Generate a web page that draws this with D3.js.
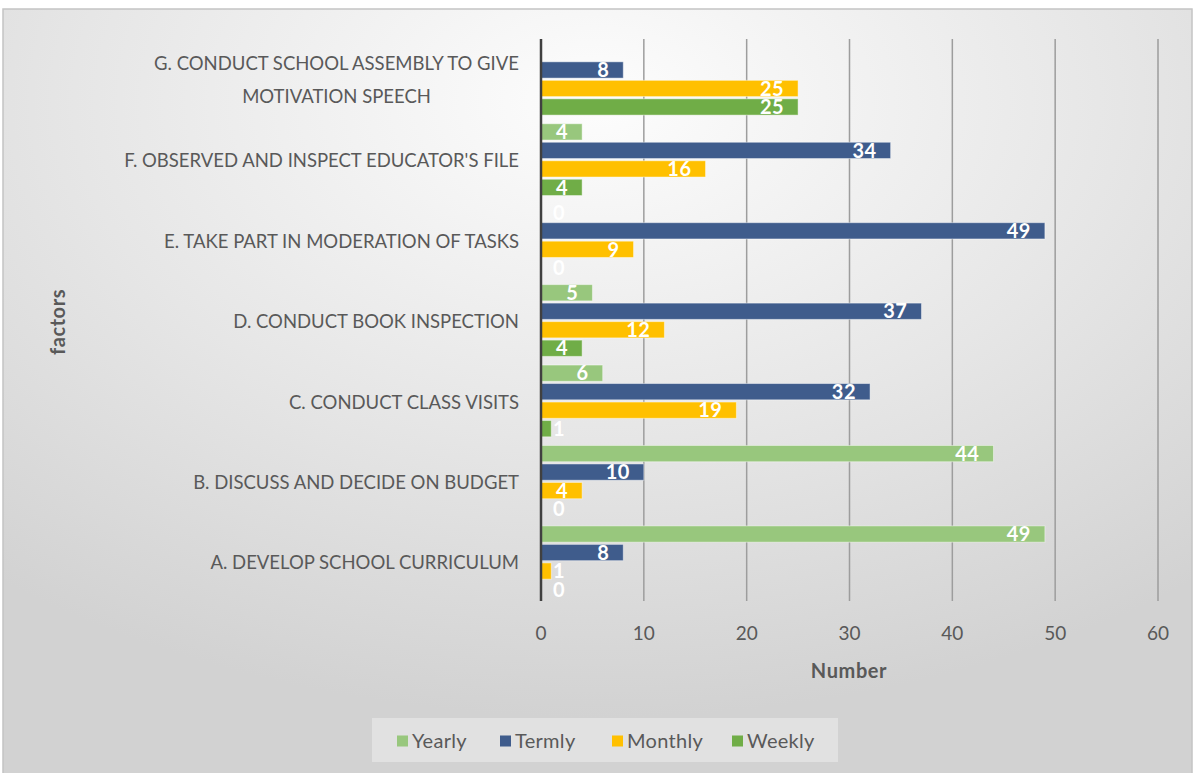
<!DOCTYPE html>
<html>
<head>
<meta charset="utf-8">
<script src="https://cdn.jsdelivr.net/npm/d3@7"></script>
<style>
  html, body { margin: 0; padding: 0; background: #ffffff; }
  svg { display: block; }
</style>
</head>
<body>
<svg id="chart" width="1195" height="773"></svg>
<script>
// Activity categories, top to bottom
const categories = [
  "G. CONDUCT SCHOOL ASSEMBLY TO GIVE|MOTIVATION SPEECH",
  "F. OBSERVED AND INSPECT EDUCATOR'S FILE",
  "E. TAKE PART IN MODERATION OF TASKS",
  "D. CONDUCT BOOK INSPECTION",
  "C. CONDUCT CLASS VISITS",
  "B. DISCUSS AND DECIDE ON BUDGET",
  "A. DEVELOP SCHOOL CURRICULUM"
];
const seriesNames = ["Yearly", "Termly", "Monthly", "Weekly"];
// Values per series, in category order (G..A); null = no bar
const yearly  = [null, 4, 0, 5, 6, 44, 49];
const termly  = [8, 34, 49, 37, 32, 10, 8];
const monthly = [25, 16, 9, 12, 19, 4, 1];
const weekly  = [25, 4, 0, 4, 1, 0, 0];
const xTicks = [0, 10, 20, 30, 40, 50, 60];

const seriesValues = [yearly, termly, monthly, weekly];
const colors = ["#98c77d", "#3f5c8c", "#ffc000", "#70ad47"];

const svg = d3.select("#chart");

// Background gradient of the chart area
const defs = svg.append("defs");
const grad = defs.append("radialGradient")
  .attr("id", "bg").attr("cx", "50%").attr("cy", "12%").attr("r", "80%")
  .attr("gradientUnits", "objectBoundingBox");
grad.append("stop").attr("offset", "0%").attr("stop-color", "#fdfdfd");
grad.append("stop").attr("offset", "55%").attr("stop-color", "#e6e6e6");
grad.append("stop").attr("offset", "100%").attr("stop-color", "#d2d2d2");

svg.append("rect").attr("x", 3).attr("y", 9).attr("width", 1189).attr("height", 770)
  .attr("fill", "url(#bg)").attr("stroke", "#c4c4c4").attr("stroke-width", 1.5);

const x = d3.scaleLinear().domain([0, 60]).range([541, 1158]);
const y = d3.scaleBand().domain(d3.range(categories.length)).range([39, 602]).paddingInner(0).paddingOuter(0);
const inner = d3.scaleBand().domain(d3.range(4)).range([0, 74]).paddingInner(0.12).paddingOuter(0.06);
const groupOffset = (y.bandwidth() - 74) / 2;

const font = "Lato, 'Open Sans', sans-serif";

// Vertical gridlines
svg.append("g").selectAll("line").data(xTicks.filter(t => t > 0)).join("line")
  .attr("x1", d => x(d)).attr("x2", d => x(d))
  .attr("y1", 39).attr("y2", 601)
  .attr("stroke", "#9d9d9d").attr("stroke-width", 1.5);

// Bars
const bars = [];
seriesValues.forEach((vals, s) => {
  vals.forEach((v, c) => { if (v !== null) bars.push({ s, c, v }); });
});

svg.append("g").selectAll("rect").data(bars).join("rect")
  .attr("x", x(0))
  .attr("y", d => y(d.c) + groupOffset + inner(d.s))
  .attr("width", d => x(d.v) - x(0))
  .attr("height", inner.bandwidth())
  .attr("fill", d => colors[d.s])
  .attr("stroke", "rgba(255,255,255,0.45)").attr("stroke-width", 1);

// Value labels (inside end, pushed past the axis when the bar is short)
const labels = svg.append("g").selectAll("text").data(bars).join("text")
  .attr("y", d => y(d.c) + groupOffset + inner(d.s) + inner.bandwidth() / 2)
  .attr("dy", "0.36em")
  .attr("fill", "#ffffff")
  .attr("font-family", font).attr("font-weight", "bold").attr("font-size", 20)
  .attr("letter-spacing", 0.5)
  .text(d => d.v);
labels.each(function(d) {
  const w = this.getComputedTextLength();
  let endX = x(d.v) - 14;
  if (endX - w < x(0) + 12) endX = x(0) + 12 + w;
  d3.select(this).attr("x", endX).attr("text-anchor", "end");
});

// Value axis line
svg.append("line").attr("x1", x(0)).attr("x2", x(0)).attr("y1", 39).attr("y2", 601)
  .attr("stroke", "#404040").attr("stroke-width", 2.5);

// Tick labels
svg.append("g").selectAll("text").data(xTicks).join("text")
  .attr("x", d => x(d)).attr("y", 633).attr("dy", "0.35em")
  .attr("text-anchor", "middle")
  .attr("font-family", font).attr("font-size", 19).attr("fill", "#595959")
  .text(d => d);

// Category labels
const catG = svg.append("g");
categories.forEach((label, i) => {
  const lines = label.split("|");
  const cy = y(i) + y.bandwidth() / 2 + 1;
  const lh = 33;
  const t = catG.append("text")
    .attr("font-family", font).attr("font-size", 18.5).attr("fill", "#595959")
    .attr("text-anchor", "middle");
  lines.forEach((ln, k) => {
    t.append("tspan").attr("y", cy + (k - (lines.length - 1) / 2) * lh).attr("dy", "0.36em").text(ln);
  });
  let maxW = 0;
  t.selectAll("tspan").each(function() { maxW = Math.max(maxW, this.getComputedTextLength()); });
  t.selectAll("tspan").attr("x", 519 - maxW / 2);
});

// Axis titles
svg.append("text").attr("x", 849).attr("y", 671).attr("dy", "0.35em")
  .attr("text-anchor", "middle").attr("font-family", font).attr("font-weight", "bold")
  .attr("font-size", 20).attr("letter-spacing", 0.6).attr("fill", "#595959").text("Number");
svg.append("text").attr("transform", "translate(58,322) rotate(-90)").attr("dy", "0.35em")
  .attr("text-anchor", "middle").attr("font-family", font).attr("font-weight", "bold")
  .attr("font-size", 20).attr("letter-spacing", 0.6).attr("fill", "#595959").text("factors");

// Legend
svg.append("rect").attr("x", 372).attr("y", 718).attr("width", 466).attr("height", 44)
  .attr("fill", "#e4e4e4").attr("opacity", 0.85);
const legendX = [397, 500, 612, 732];
const lg = svg.append("g").selectAll("g").data(seriesNames).join("g")
  .attr("transform", (d, i) => `translate(${legendX[i]},741)`);
lg.append("rect").attr("x", 0).attr("y", -5.5).attr("width", 11).attr("height", 11)
  .attr("fill", (d, i) => colors[i]);
lg.append("text").attr("x", 15).attr("dy", "0.35em")
  .attr("font-family", font).attr("font-size", 20).attr("letter-spacing", 0.3).attr("fill", "#595959")
  .text(d => d);
</script>
</body>
</html>
